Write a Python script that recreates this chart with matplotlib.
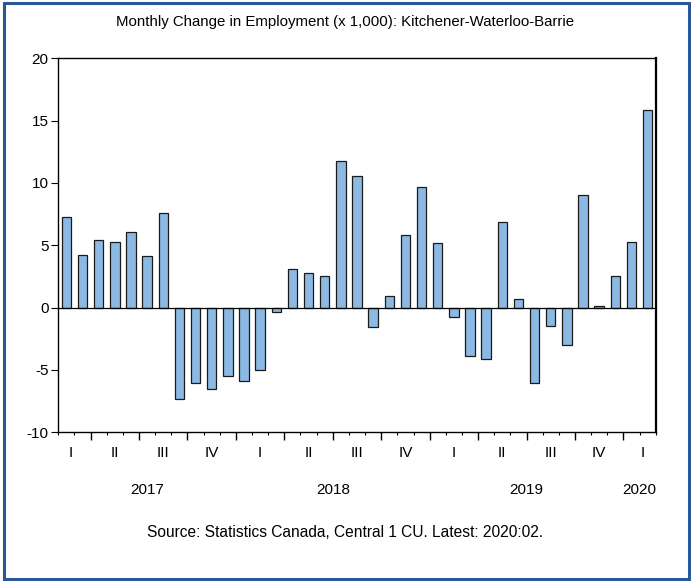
import matplotlib.pyplot as plt
from matplotlib.patches import Rectangle

plt.rcParams['font.family'] = ['Liberation Sans', 'DejaVu Sans']
plt.rcParams['axes.unicode_minus'] = False

# Monthly change in employment (x1,000), Feb 2017 - Feb 2020
changes = [7.25, 4.22, 5.43, 5.29, 6.04, 4.14, 7.57, -7.30, -6.04, -6.50, -5.45,
           -5.86, -4.97, -0.37, 3.07, 2.75, 2.57, 11.76, 10.59, -1.58, 0.91, 5.83,
           9.71, 5.21, -0.72, -3.85, -4.12, 6.84, 0.72, -6.02, -1.47, -2.99, 9.06,
           0.13, 2.54, 5.29, 15.86]
quarter_labels = ['I', 'II', 'III', 'IV'] * 3 + ['I']
quarter_pos = [0.3] + [3 + 3 * k for k in range(11)] + [35.7]
years = ['2017', '2018', '2019', '2020']
year_pos = [5, 16.5, 28.5, 35.5]

fig = plt.figure(figsize=(6.91, 5.81), dpi=100)
ax = fig.add_axes([0.0844, 0.2559, 0.8645, 0.6438])

x = range(len(changes))
ax.bar(x, changes, width=0.58, color='#8CB8E4', edgecolor='#1a1a1a', linewidth=0.9, zorder=2)
ax.axhline(0, color='black', linewidth=0.9, zorder=3)

ax.set_xlim(-0.5, len(changes) - 0.5)
ax.set_ylim(-10, 20)
ax.set_yticks([-10, -5, 0, 5, 10, 15, 20])
ax.tick_params(axis='y', direction='out', length=5, width=0.8, labelsize=11, pad=2)

ax.set_xticks([1.5 + 3 * k for k in range(12)])
ax.set_xticks([i - 0.5 for i in range(len(changes) + 1)], minor=True)
ax.set_xticklabels([])
ax.tick_params(axis='x', which='major', direction='out', length=5.5, width=1.0)
ax.tick_params(axis='x', which='minor', direction='out', length=2.2, width=0.8)

for sp in ax.spines.values():
    sp.set_linewidth(1.0)
ax.spines['right'].set_linewidth(1.6)

tr = ax.get_xaxis_transform()
for lab, p in zip(quarter_labels, quarter_pos):
    ax.text(p, -0.056, lab, transform=tr, ha='center', va='center', fontsize=11)
for lab, p in zip(years, year_pos):
    ax.text(p, -0.155, lab, transform=tr, ha='center', va='center', fontsize=11)

fig.text(0.5, 0.962, 'Monthly Change in Employment (x 1,000): Kitchener-Waterloo-Barrie',
         ha='center', va='center', fontsize=10.8)
fig.text(0.5, 0.0843, 'Source: Statistics Canada, Central 1 CU. Latest: 2020:02.',
         ha='center', va='center', fontsize=11.2)

fig.patches.append(Rectangle((0.0055, 0.004), 0.9915, 0.99, transform=fig.transFigure,
                             fill=False, edgecolor='#2B5797', linewidth=2.2))

fig.savefig('out.png', dpi=100)
